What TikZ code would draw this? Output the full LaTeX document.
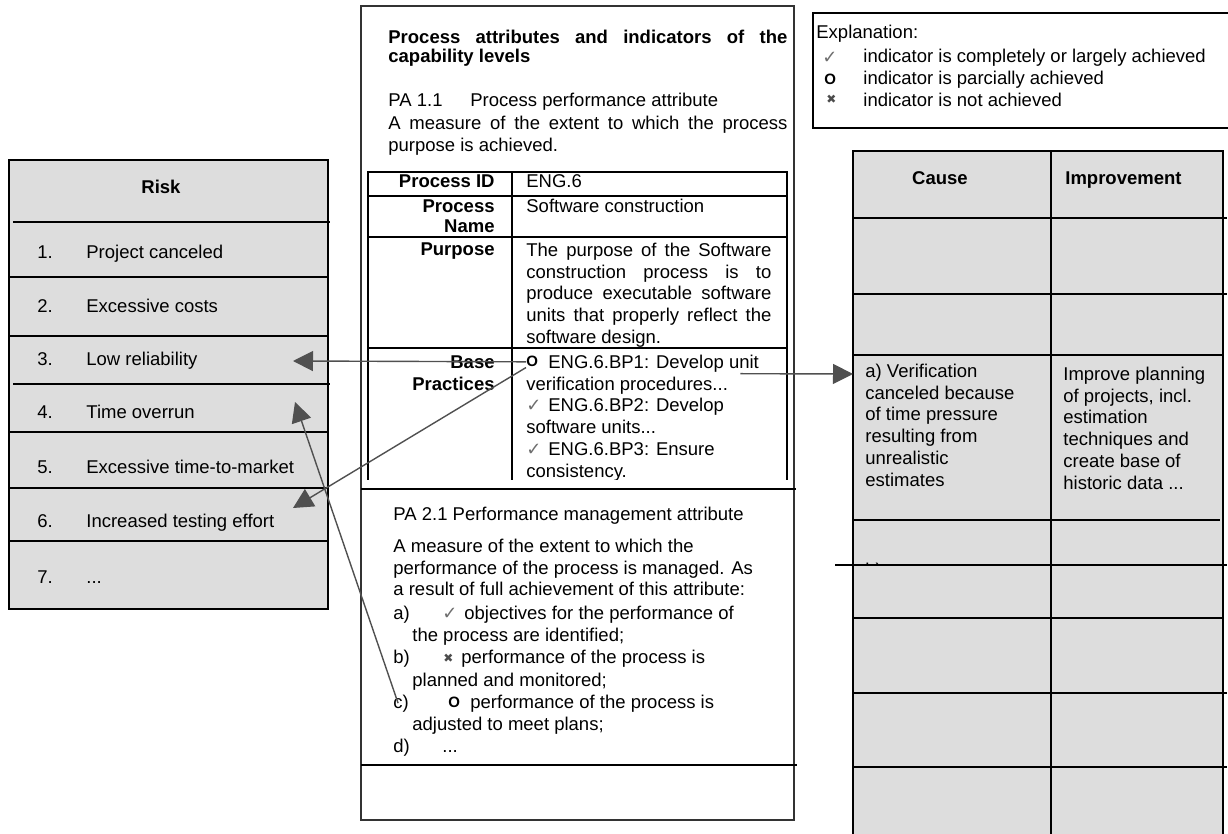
\documentclass[tikz,border=0pt]{standalone}
\usepackage{fontspec}
\setmainfont{Liberation Sans}
\newfontfamily\markfont{DejaVu Sans}
\usetikzlibrary{arrows.meta}
\definecolor{cellgray}{RGB}{221,221,221}
\definecolor{arrowgray}{RGB}{80,80,80}
\definecolor{markgray}{RGB}{110,110,110}
\newcommand{\chk}{{\markfont\fontsize{9}{9}\selectfont\color{markgray}✓}}
\newcommand{\crs}{{\markfont\fontsize{6}{6}\selectfont\color{black!70}✖}}
\hyphenpenalty=10000
\exhyphenpenalty=10000
\begin{document}
\begin{tikzpicture}[x=0.5pt,y=-0.5pt,
  font=\fontsize{9.25}{10.9}\selectfont,
  txt/.style={anchor=base west,inner sep=0pt},
  lbl/.style={anchor=base east,inner sep=0pt,font=\fontsize{9.25}{10.9}\selectfont\bfseries},
  circ/.style={anchor=base west,inner sep=0pt,font=\fontsize{7.5}{7.5}\selectfont\bfseries},
  para/.style={anchor=north west,inner sep=0pt,align=left},
  rule/.style={line width=0.8pt},
  link/.style={draw=arrowgray,line width=0.7pt,-{Triangle[length=10pt,width=10pt]}}]
\useasboundingbox (0,0) rectangle (1228,834);

% risk table
\fill[cellgray] (9,160) rectangle (328,609);
\draw[rule] (9,160) rectangle (328,609);
\foreach \yy in {277,336,432,488,541} \draw[rule] (9,\yy) -- (328,\yy);
\foreach \yy in {222,384} \draw[rule] (13,\yy) -- (330,\yy);
\node[lbl,anchor=base] (riskhead) at (161,194) {Risk};
\foreach \k/\yy/\risk in {1/259/Project canceled,2/313/Excessive costs,3/366/Low reliability,
  4/419/Time overrun,5/474/Excessive time-to-market,6/528/Increased testing effort}{
  \node[txt] (num\k) at (37,\yy) {\k.};
  \node[txt] (risk\k) at (86,\yy) {\risk};
}
\node[txt] (num7) at (37,583) {7.};
\node[txt] (risk7) at (86,583) {...};
\coordinate (lowrel) at (293,361);
\coordinate (overrun) at (295,402);
\coordinate (testing) at (293,508);

% process attributes box
\draw[line width=1pt,draw=black!80] (361,6) rectangle (794,820);
\node[para,text width=199.5pt,align=justify,font=\fontsize{9.25}{9.6}\selectfont\bfseries] (title) at (388,29.5)
  {Process attributes and indicators of the capability levels};
\node[txt] (paone) at (388,107) {PA 1.1};
\node[txt] (paonename) at (470,107) {Process performance attribute};
\node[para,text width=199.5pt,align=justify] (paonedef) at (388,115.5)
  {A measure of the extent to which the process purpose is achieved.};

\draw[rule] (368,480) -- (368,172) -- (787,172) -- (787,480);
\draw[rule] (512,172) -- (512,480);
\foreach \yy in {196,237,348} \draw[rule] (368,\yy) -- (787,\yy);
\node[lbl] (idlbl) at (495,188) {Process ID};
\node[txt] (idval) at (526,188) {ENG.6};
\node[lbl] (namelbl) at (495,213) {Process};
\node[lbl] (namelbltwo) at (495,233) {Name};
\node[txt] (nameval) at (526,213) {Software construction};
\node[lbl] (purplbl) at (495,256) {Purpose};
\node[para,text width=122.5pt,align=justify] (purpval) at (526,242.5)
  {The purpose of the Software construction process is to produce executable software units that properly reflect the software design.};
\node[lbl] (bplbl) at (495,369) {Base};
\node[lbl] (bplbltwo) at (495,391) {Practices};
\node[circ] (bpcircle) at (526,367) {O};
\node[txt] (bpa) at (548,369) {ENG.6.BP1: Develop unit};
\node[txt] (bpb) at (526,391) {verification procedures...};
\node[txt] (bpcheck) at (526,412) {\chk};
\node[txt] (bpc) at (548,412) {ENG.6.BP2: Develop};
\node[txt] (bpd) at (526,434) {software units...};
\node[txt] (bpchecktwo) at (526,456) {\chk};
\node[txt] (bpe) at (548,456) {ENG.6.BP3: Ensure};
\begin{scope}
  \clip (512,440) rectangle (787,480);
  \node[txt] (bpf) at (526,478) {consistency.};
\end{scope}
\draw[rule] (361,489) -- (796,489);

\node[txt] (patwo) at (393,521) {PA 2.1 Performance management attribute};
\node[para] (patwodef) at (393,538.5)
  {A measure of the extent to which the\\performance of the process is managed. As\\a result of full achievement of this attribute:};
\node[txt] (lbla) at (393,619) {a)};
\node[txt] (marka) at (442,619) {\chk};
\node[txt] (itema) at (464,619) {objectives for the performance of};
\node[txt] (itemamore) at (412,641) {the process are identified;};
\node[txt] (lblb) at (393,663) {b)};
\node[txt] (markb) at (443,662) {\crs};
\node[txt] (itemb) at (461,663) {performance of the process is};
\node[txt] (itembmore) at (412,686) {planned and monitored;};
\node[txt] (lblc) at (393,708) {c)};
\node[circ] (markc) at (448,707) {O};
\node[txt] (itemc) at (470,708) {performance of the process is};
\node[txt] (itemcmore) at (412,730) {adjusted to meet plans;};
\node[txt] (lbld) at (393,752) {d)};
\node[txt] (itemd) at (442,752) {...};
\draw[rule] (361,765) -- (797,765);

% explanation
\draw[rule] (1240,13) rectangle (813,128);
\node[txt] (explhead) at (816,39) {Explanation:};
\node[txt] (explcheck) at (822,64) {\chk};
\node[txt] (explone) at (863,63) {indicator is completely or largely achieved};
\node[circ] (explcircle) at (824,85) {O};
\node[txt] (expltwo) at (863,85) {indicator is parcially achieved};
\node[txt] (explcross) at (826,104) {\crs};
\node[txt] (explthree) at (863,107) {indicator is not achieved};

% cause / improvement table
\fill[cellgray] (853,151) rectangle (1223,850);
\draw[rule] (853,850) -- (853,151) -- (1223,151) -- (1223,850);
\draw[rule] (1051,151) -- (1051,850);
\foreach \yy in {218,294,693,767} \draw[rule] (853,\yy) -- (1227,\yy);
\foreach \yy in {355,618} \draw[rule] (853,\yy) -- (1223,\yy);
\draw[rule] (853,520) -- (1220,520);
\begin{scope}
  \clip (853,520) rectangle (1051,565);
  \node[txt] (causeb) at (865,576) {b)};
\end{scope}
\draw[rule] (835,565) -- (1227,565);
\node[lbl,anchor=base] (causehead) at (940,185) {Cause};
\node[lbl,anchor=base west] (imphead) at (1065,185) {Improvement};
\node[para] (causea) at (865,363.5)
  {a) Verification\\canceled because\\of time pressure\\resulting from\\unrealistic\\estimates};
\node[para] (impa) at (1063,366.5)
  {Improve planning\\of projects, incl.\\estimation\\techniques and\\create base of\\historic data ...};
\coordinate (causecell) at (853,374);

% links
\draw[link] (bpcircle.west) -- (lowrel);
\draw[link] (bpcircle.south west) -- (testing);
\draw[link] ([xshift=-1.5pt]lblc.center) -- (overrun);
\draw[link] ([xshift=6pt,yshift=1.75pt]bpb.north east) -- (causecell);
\end{tikzpicture}
\end{document}
